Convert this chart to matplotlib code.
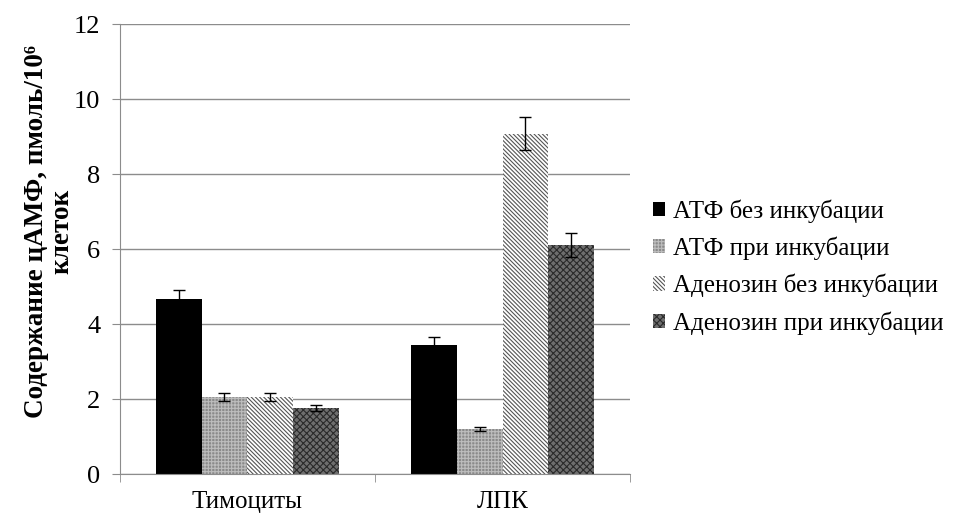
import numpy as np
import matplotlib
matplotlib.use('Agg')
from matplotlib import pyplot as plt

plt.rcParams['font.family'] = ['Liberation Serif', 'DejaVu Serif']
plt.rcParams['hatch.linewidth'] = 0.8

categories = ['Тимоциты', 'ЛПК']
series = ['АТФ без инкубации', 'АТФ при инкубации',
          'Аденозин без инкубации', 'Аденозин при инкубации']
values = [[4.67, 3.45], [2.05, 1.2], [2.05, 9.08], [1.75, 6.1]]
errors = [[0.23, 0.2], [0.1, 0.05], [0.1, 0.45], [0.08, 0.32]]

faces = ['black', '#8a8a8a', 'white', '#6e6e6e']
hatches = [None, '+++++', '\\\\\\\\\\\\\\\\', 'xxxxx']
hcolors = ['black', '#bdbdbd', '#555555', '#2a2a2a']

fig = plt.figure(figsize=(9.59, 5.13), dpi=100)
ax = fig.add_axes([0.125, 0.076, 0.532, 0.877])

x = np.arange(len(categories))
w = 0.18
for i, name in enumerate(series):
    pos = x + (i - 1.5) * w
    ax.bar(pos, values[i], w, color=faces[i], hatch=hatches[i],
           edgecolor=hcolors[i], linewidth=0, label=name, zorder=2)
    ax.errorbar(pos, values[i], yerr=errors[i], fmt='none', ecolor='black',
                elinewidth=1, capsize=4, capthick=1, zorder=3)

ax.set_xlim(-0.5, 1.5)
ax.set_ylim(0, 12)
ax.set_yticks(range(0, 13, 2))
ax.yaxis.grid(True, color='#8c8c8c', linewidth=1)
ax.set_axisbelow(True)
ax.set_xticks(x)
ax.set_xticklabels(categories, fontsize=18)
ax.set_xticks([-0.5, 0.5, 1.5], minor=True)
ax.tick_params(axis='x', which='major', length=0, pad=12)
ax.tick_params(axis='x', which='minor', length=6, color='#8c8c8c')
ax.tick_params(axis='y', labelsize=19, length=6, color='#8c8c8c', pad=8)
for s in ['top', 'right']:
    ax.spines[s].set_visible(False)
for s in ['left', 'bottom']:
    ax.spines[s].set_color('#8c8c8c')

ax.set_ylabel('Содержание цАМФ, пмоль/10⁶\nклеток', fontsize=19.5,
              fontweight='bold', linespacing=1.0)
ax.yaxis.set_label_coords(-0.09, 0.54)

ax.legend(loc='center left', bbox_to_anchor=(1.0, 0.46), frameon=False,
          fontsize=18, handlelength=0.5, handleheight=0.5, handletextpad=0.3,
          labelspacing=0.55)

plt.savefig('out.png', dpi=100)
